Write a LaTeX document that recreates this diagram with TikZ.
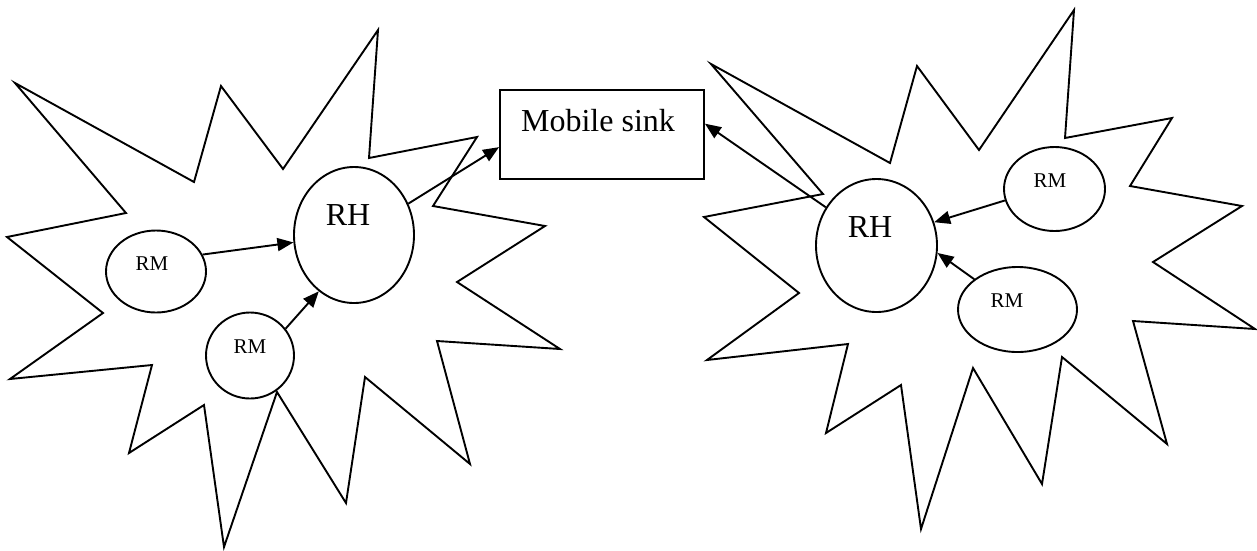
\documentclass[tikz,border=0pt]{standalone}
\usepackage{fontspec}
\setmainfont{Liberation Serif}
\usetikzlibrary{shapes.geometric,arrows.meta}
\tikzset{
  outline/.style={draw=black, line width=1.9pt, line join=miter},
  cell/.style={ellipse, draw=black, line width=1.9pt, inner sep=0pt},
  sinkbox/.style={rectangle, draw=black, line width=1.9pt, inner sep=0pt,
    minimum width=204pt, minimum height=89pt},
  bigtext/.style={font=\fontsize{32}{36}\selectfont, anchor=base, inner sep=0pt},
  smalltext/.style={font=\fontsize{21}{24}\selectfont, anchor=base, inner sep=0pt},
  link/.style={draw=black, line width=1.9pt, -{Triangle[length=16pt,width=13pt]}},
}
\begin{document}
\begin{tikzpicture}[x=1pt, y=-1pt]
\useasboundingbox (0,0) rectangle (1257,550);

% left cluster outline
\draw[outline] (15,83) -- (194,182) -- (221,86) -- (283,169) -- (378,30)
  -- (369,158) -- (477,137) -- (433,206) -- (545,226) -- (457,282)
  -- (560,349) -- (437,341) -- (470,464) -- (365,377) -- (346,503)
  -- (277,392) -- (224,547) -- (204,405) -- (129,453) -- (152,365)
  -- (10,379) -- (103,313) -- (7,237) -- (126,213) -- cycle;

% right cluster outline
\draw[outline] (711,64) -- (890,163) -- (917,66) -- (979,150) -- (1074,10)
  -- (1065,138) -- (1172,118) -- (1130,186) -- (1242,206) -- (1153,262)
  -- (1255,329) -- (1133,321) -- (1167,444) -- (1062,357) -- (1042,484)
  -- (973,368) -- (921,529) -- (901,385) -- (826,433) -- (848,344)
  -- (707,360) -- (799,293) -- (704,217) -- (823,194) -- cycle;

% sink
\node[sinkbox] (sink) at (602,134.5) {};
\node[bigtext] (sinklabel) at (598,131) {Mobile sink};

% left cluster members
\node[cell, minimum width=120pt, minimum height=136pt] (rh1) at (354,235) {};
\node[bigtext] (rh1label) at (348,225) {RH};
\node[cell, minimum width=100pt, minimum height=82pt] (rm1) at (156,271.5) {};
\node[smalltext] (rm1label) at (152,270) {RM};
\node[cell, minimum width=88pt, minimum height=86pt] (rm2) at (250,355.5) {};
\node[smalltext] (rm2label) at (250,353) {RM};

% right cluster members
\node[cell, minimum width=121pt, minimum height=133pt] (rh2) at (876.5,245.5) {};
\node[bigtext] (rh2label) at (870,237) {RH};
\node[cell, minimum width=101pt, minimum height=84pt] (rm3) at (1054.5,189) {};
\node[smalltext] (rm3label) at (1050,187) {RM};
\node[cell, minimum width=119pt, minimum height=85pt] (rm4) at (1017.5,309.5) {};
\node[smalltext] (rm4label) at (1007,307) {RM};

% links
\draw[link] (rm1.20) -- (rh1.187);
\draw[link] (rm2.37) -- (rh1.238);
\draw[link] (rh1.30) -- (sink.187.5);
\draw[link] (rh2.143.6) -- (sink.6.4);
\draw[link] (rm3.193) -- (rh2.22);
\draw[link] (rm4.145.6) -- (rh2.353);
\end{tikzpicture}
\end{document}
